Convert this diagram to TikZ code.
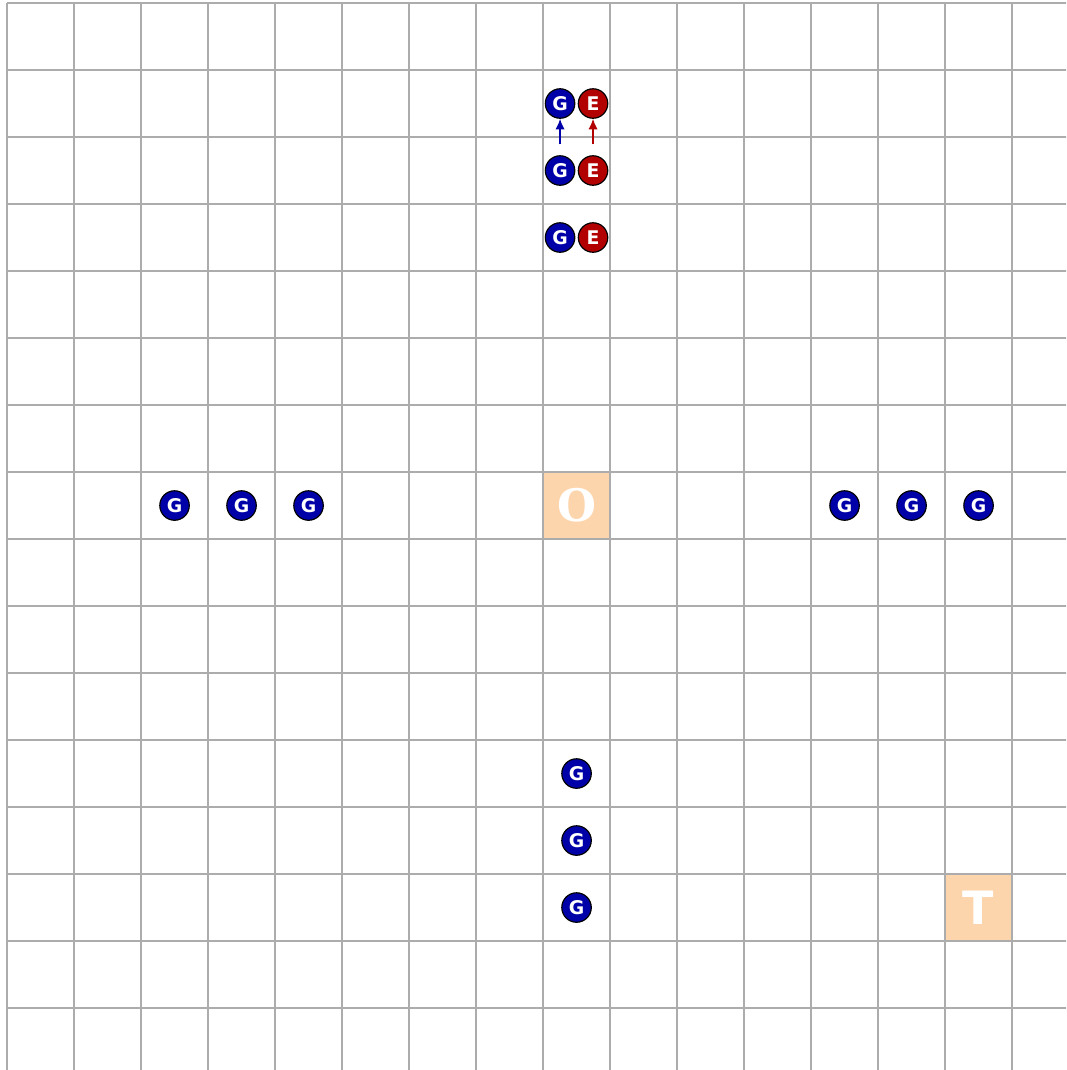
\documentclass[tikz,border=0pt]{standalone}
\usepackage{fontspec}
\setsansfont{DejaVu Sans}
\newfontfamily\markfont{DejaVu Serif}
\usetikzlibrary{arrows.meta}

\definecolor{gridgray}{RGB}{172,172,172}
\definecolor{gblue}{RGB}{0,0,168}
\definecolor{ered}{RGB}{178,0,0}
\definecolor{peach}{RGB}{253,213,172}

\begin{document}
\begin{tikzpicture}[
    % Korongok a mezok kozepen
    agent/.style={circle, draw=black, line width=0.5pt, minimum size=0.44cm, inner sep=0pt,
        text=white, font=\sffamily\bfseries\fontsize{8}{8}\selectfont},
    ghost/.style={agent, fill=gblue},
    enemy/.style={agent, fill=ered},
    % Kiemelt mezok (O, T)
    cellmark/.style={fill=peach, minimum size=1cm, inner sep=0pt, text=white},
    move/.style={-{Latex[length=4.5pt,width=4pt]}, line width=0.6pt, shorten <=0.16cm}
]

    % Keret es vagas
    \useasboundingbox (-0.105,0.045) rectangle (15.806,-15.925);
    \clip (-0.105,0.045) rectangle (15.806,-15.925);

    % Kiemelt mezok
    \node[cellmark, font=\markfont\bfseries\fontsize{19}{19}\selectfont] (O) at (8.5,-7.5) {O};
    \node[cellmark, font=\sffamily\bfseries\fontsize{19.5}{19.5}\selectfont] (T) at (14.5,-13.5) {T};

    % Racs
    \draw[gridgray, line width=0.85pt] (0,-17) grid (17,0);

    % Vizszintes sor a kozepen
    \foreach \c in {2,3,4,12,13,14}
        \node[ghost] (g\c) at (\c+0.5,-7.5) {G};

    % Fuggoleges sor lent
    \foreach \r in {11,12,13}
        \node[ghost] (h\r) at (8.5,-\r-0.5) {G};

    % Parok fent (G es E)
    \foreach \r in {1,2,3} {
        \node[ghost] (pg\r) at (8.254,-\r-0.5) {G};
        \node[enemy] (pe\r) at (8.746,-\r-0.5) {E};
    }

    % Lepesek felfele
    \draw[move, gblue] (pg2) -- (pg1);
    \draw[move, ered] (pe2) -- (pe1);
\end{tikzpicture}
\end{document}
